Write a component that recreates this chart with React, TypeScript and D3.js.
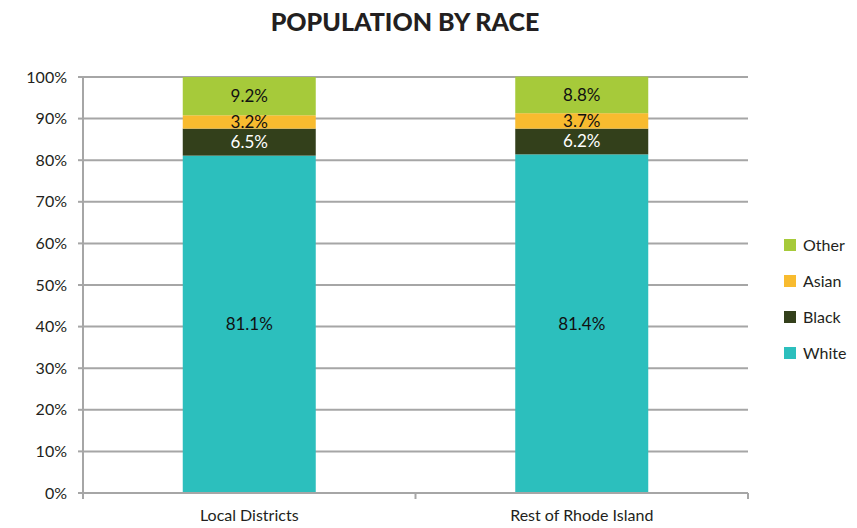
import React, { useRef, useEffect } from "react";
import * as d3 from "d3";

const categories = ["Local Districts", "Rest of Rhode Island"];
const races = ["White", "Black", "Asian", "Other"];
const white = [81.1, 81.4];
const black = [6.5, 6.2];
const asian = [3.2, 3.7];
const other = [9.2, 8.8];
const colors = ["#2CBFBD", "#33401B", "#F8BB2F", "#A6CA3A"];
const yTicks = [0, 10, 20, 30, 40, 50, 60, 70, 80, 90, 100];

const width = 857;
const height = 528;
const font = "Lato, 'Open Sans', sans-serif";

const App = () => {
  const ref = useRef<SVGSVGElement | null>(null);

  useEffect(() => {
    const svg = d3.select(ref.current);
    svg.selectAll("*").remove();

    const margin = { left: 83, right: 109, top: 77, bottom: 35 };
    const x = d3
      .scaleBand()
      .domain(categories)
      .range([margin.left, width - margin.right])
      .paddingInner(0.6)
      .paddingOuter(0.3);
    const y = d3
      .scaleLinear()
      .domain([0, 100])
      .range([height - margin.bottom, margin.top]);

    // Title
    svg
      .append("text")
      .attr("x", 405)
      .attr("y", 31)
      .attr("text-anchor", "middle")
      .attr("font-family", font)
      .attr("font-weight", 900)
      .attr("font-size", 25)
      .attr("fill", "#231F20")
      .text("POPULATION BY RACE");

    // Grid lines
    svg
      .append("g")
      .selectAll("line")
      .data(yTicks.slice(1))
      .enter()
      .append("line")
      .attr("x1", margin.left)
      .attr("x2", width - margin.right)
      .attr("y1", (d) => y(d))
      .attr("y2", (d) => y(d))
      .attr("stroke", "#A6A6A6")
      .attr("stroke-width", 2);

    // Stack
    const rows = categories.map((c, i) => ({
      category: c,
      White: white[i],
      Black: black[i],
      Asian: asian[i],
      Other: other[i],
    }));
    const series = d3.stack<any>().keys(races)(rows);

    const groups = svg
      .append("g")
      .selectAll("g")
      .data(series)
      .enter()
      .append("g")
      .attr("fill", (d, i) => colors[i]);

    groups
      .selectAll("rect")
      .data((d) => d)
      .enter()
      .append("rect")
      .attr("x", (d: any) => x(d.data.category)!)
      .attr("width", x.bandwidth())
      .attr("y", (d) => y(d[1]))
      .attr("height", (d) => y(d[0]) - y(d[1]));

    // Labels
    series.forEach((s, si) => {
      svg
        .append("g")
        .selectAll("text")
        .data(s)
        .enter()
        .append("text")
        .attr("x", (d: any) => x(d.data.category)! + x.bandwidth() / 2)
        .attr("y", (d) => y((d[0] + d[1]) / 2))
        .attr("dy", "0.35em")
        .attr("text-anchor", "middle")
        .attr("font-family", font)
        .attr("font-size", 17)
        .attr("fill", si === 1 ? "#FFFFFF" : "#111111")
        .text((d) => (d[1] - d[0]).toFixed(1) + "%");
    });

    // Y axis
    svg
      .append("line")
      .attr("x1", margin.left)
      .attr("x2", margin.left)
      .attr("y1", y(0))
      .attr("y2", y(100))
      .attr("stroke", "#A6A6A6")
      .attr("stroke-width", 2);
    svg
      .append("g")
      .selectAll("line")
      .data(yTicks)
      .enter()
      .append("line")
      .attr("x1", margin.left - 5)
      .attr("x2", margin.left)
      .attr("y1", (d) => y(d))
      .attr("y2", (d) => y(d))
      .attr("stroke", "#A6A6A6")
      .attr("stroke-width", 2);
    svg
      .append("g")
      .selectAll("text")
      .data(yTicks)
      .enter()
      .append("text")
      .attr("x", 67)
      .attr("y", (d) => y(d))
      .attr("dy", "0.35em")
      .attr("text-anchor", "end")
      .attr("font-family", font)
      .attr("font-size", 16)
      .attr("fill", "#231F20")
      .text((d) => d + "%");

    // X axis
    svg
      .append("line")
      .attr("x1", margin.left)
      .attr("x2", width - margin.right)
      .attr("y1", y(0))
      .attr("y2", y(0))
      .attr("stroke", "#A6A6A6")
      .attr("stroke-width", 2);
    const step = (width - margin.right - margin.left) / categories.length;
    svg
      .append("g")
      .selectAll("line")
      .data(d3.range(categories.length + 1))
      .enter()
      .append("line")
      .attr("x1", (d) => margin.left + d * step)
      .attr("x2", (d) => margin.left + d * step)
      .attr("y1", y(0))
      .attr("y2", y(0) + 6)
      .attr("stroke", "#A6A6A6")
      .attr("stroke-width", 2);
    svg
      .append("g")
      .selectAll("text")
      .data(categories)
      .enter()
      .append("text")
      .attr("x", (d) => x(d)! + x.bandwidth() / 2)
      .attr("y", y(0) + 28)
      .attr("text-anchor", "middle")
      .attr("font-family", font)
      .attr("font-size", 16)
      .attr("fill", "#231F20")
      .text((d) => d);

    // Legend
    const legend = svg
      .append("g")
      .selectAll("g")
      .data(races.slice().reverse())
      .enter()
      .append("g")
      .attr("transform", (d, i) => `translate(784,${245 + i * 36})`);
    legend
      .append("rect")
      .attr("x", 0)
      .attr("y", -6)
      .attr("width", 12)
      .attr("height", 12)
      .attr("fill", (d) => colors[races.indexOf(d)]);
    legend
      .append("text")
      .attr("x", 19)
      .attr("y", 0)
      .attr("dy", "0.35em")
      .attr("font-family", font)
      .attr("font-size", 16)
      .attr("fill", "#231F20")
      .text((d) => d);
  }, []);

  return (
    <svg
      ref={ref}
      width={width}
      height={height}
      style={{ position: "absolute", left: 0, top: 0 }}
    />
  );
};

export default App;
